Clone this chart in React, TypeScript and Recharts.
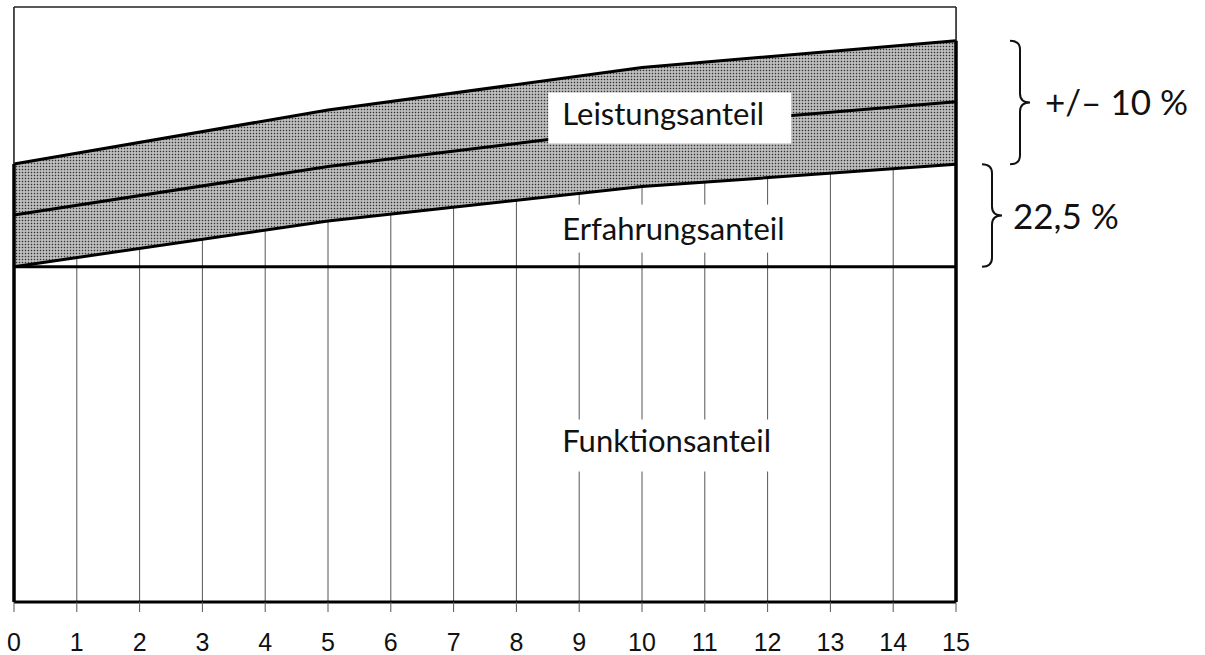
import React from "react";
import {
  ComposedChart,
  Area,
  Line,
  XAxis,
  YAxis,
  CartesianGrid,
  ReferenceLine,
  ReferenceDot,
} from "recharts";

// Years of service (x) at the break points of the curves
const years = [0, 5, 10, 15];
// Functional share (base, horizontal)
const funktionsanteil = [56.35, 56.35, 56.35, 56.35];
// Upper edge of experience share
const erfahrungsanteil = [56.35, 64.03, 69.83, 73.56];
// Middle performance line
const leistungMitte = [65.04, 73.19, 79.66, 84.08];
// Upper edge of performance share (+10 %)
const leistungOben = [73.61, 82.69, 89.83, 94.34];
// Axis ticks
const xTicks = [0, 1, 2, 3, 4, 5, 6, 7, 8, 9, 10, 11, 12, 13, 14, 15];

const data = years.map((x, i) => ({
  x,
  funktion: funktionsanteil[i],
  erfahrung: erfahrungsanteil[i],
  mitte: leistungMitte[i],
  oben: leistungOben[i],
  cover: [erfahrungsanteil[i], 100],
  band: [erfahrungsanteil[i], leistungOben[i]],
}));

const LABEL_FONT = "Lato, 'Open Sans', sans-serif";
const TICK_FONT = "'Liberation Sans', Arial, sans-serif";

const makeLabel =
  (text: string, boxW: number, boxTop: number, boxBottom: number, fontSize: number) =>
  (props: any) => {
    const { cx, cy } = props;
    const cap = fontSize * 0.72;
    return (
      <g>
        <rect x={cx - 14} y={cy - boxTop} width={boxW} height={boxTop + boxBottom} fill="#fff" />
        <text x={cx} y={cy + cap / 2} fontFamily={LABEL_FONT} fontSize={fontSize} fill="#111">
          {text}
        </text>
      </g>
    );
  };

const makeBrace =
  (offset: number, w: number, text: string, textGap: number) => (props: any) => {
    const { x1, y1, y2 } = props;
    const top = Math.min(y1, y2);
    const bot = Math.max(y1, y2);
    const x0 = x1 + offset;
    const xm = x0 + w / 2;
    const ym = (top + bot) / 2;
    const r = 9;
    const d = [
      `M ${x0} ${top}`,
      `Q ${xm} ${top} ${xm} ${top + r}`,
      `L ${xm} ${ym - r}`,
      `Q ${xm} ${ym} ${x0 + w} ${ym}`,
      `Q ${xm} ${ym} ${xm} ${ym + r}`,
      `L ${xm} ${bot - r}`,
      `Q ${xm} ${bot} ${x0} ${bot}`,
    ].join(" ");
    return (
      <g>
        <path d={d} fill="none" stroke="#111" strokeWidth={2} />
        <text x={x0 + w + textGap} y={ym + 13} fontFamily={LABEL_FONT} fontSize={35} fill="#111">
          {text}
        </text>
      </g>
    );
  };

const renderTick = (props: any) => {
  const { x, y, payload } = props;
  return (
    <text x={x} y={y} dy={16} textAnchor="middle" fontFamily={TICK_FONT} fontSize={25} fill="#111">
      {payload.value}
    </text>
  );
};

export default function App() {
  return (
    <div style={{ position: "absolute", left: 0, top: 0 }}>
      <ComposedChart
        width={1205}
        height={655}
        data={data}
        margin={{ top: 7, right: 249, bottom: 0, left: 14 }}
      >
        <defs>
          <pattern id="stipple" width="3" height="3" patternUnits="userSpaceOnUse">
            <rect width="3" height="3" fill="#c8c8c8" />
            <rect x="0.75" y="0.75" width="1.5" height="1.5" fill="#333" />
          </pattern>
        </defs>
        <CartesianGrid vertical horizontal={false} stroke="#555" strokeWidth={1} />
        <XAxis
          type="number"
          dataKey="x"
          domain={[0, 15]}
          ticks={xTicks}
          interval={0}
          height={53}
          tickSize={10}
          tickMargin={23}
          axisLine={{ stroke: "#000", strokeWidth: 3 }}
          tickLine={{ stroke: "#555", strokeWidth: 1 }}
          tick={renderTick}
        />
        <YAxis hide domain={[0, 100]} type="number" />
        <Area dataKey="cover" type="linear" fill="#fff" fillOpacity={1} stroke="none" isAnimationActive={false} />
        <Area dataKey="band" type="linear" fill="url(#stipple)" fillOpacity={1} stroke="none" isAnimationActive={false} />
        <Line dataKey="funktion" type="linear" stroke="#000" strokeWidth={3} dot={false} isAnimationActive={false} />
        <Line dataKey="erfahrung" type="linear" stroke="#000" strokeWidth={3} dot={false} isAnimationActive={false} />
        <Line dataKey="mitte" type="linear" stroke="#000" strokeWidth={3} dot={false} isAnimationActive={false} />
        <Line dataKey="oben" type="linear" stroke="#000" strokeWidth={3} dot={false} isAnimationActive={false} />

        {/* frame */}
        <ReferenceLine y={100} stroke="#222" strokeWidth={1.5} />
        <ReferenceLine segment={[{ x: 0, y: 0 }, { x: 0, y: 100 }]} stroke="#222" strokeWidth={1.5} />
        <ReferenceLine segment={[{ x: 15, y: 0 }, { x: 15, y: 100 }]} stroke="#222" strokeWidth={1.5} />
        <ReferenceLine segment={[{ x: 0, y: 0 }, { x: 0, y: leistungOben[0] }]} stroke="#000" strokeWidth={3.5} />
        <ReferenceLine segment={[{ x: 15, y: 0 }, { x: 15, y: leistungOben[3] }]} stroke="#000" strokeWidth={3.5} />

        {/* braces */}
        <ReferenceLine
          segment={[{ x: 15, y: leistungOben[3] }, { x: 15, y: erfahrungsanteil[3] }]}
          shape={makeBrace(54, 20, "+/– 10 %", 15)}
        />
        <ReferenceLine
          segment={[{ x: 15, y: erfahrungsanteil[3] }, { x: 15, y: funktionsanteil[3] }]}
          shape={makeBrace(26, 20, "22,5 %", 11)}
        />

        {/* labels */}
        <ReferenceDot x={8.73} y={82.1} r={0} shape={makeLabel("Leistungsanteil", 243, 21, 30, 31)} />
        <ReferenceDot x={8.73} y={62.76} r={0} shape={makeLabel("Erfahrungsanteil", 250, 24, 24, 31)} />
        <ReferenceDot x={8.73} y={27.14} r={0} shape={makeLabel("Funktionsanteil", 230, 21, 31, 31)} />
      </ComposedChart>
    </div>
  );
}
